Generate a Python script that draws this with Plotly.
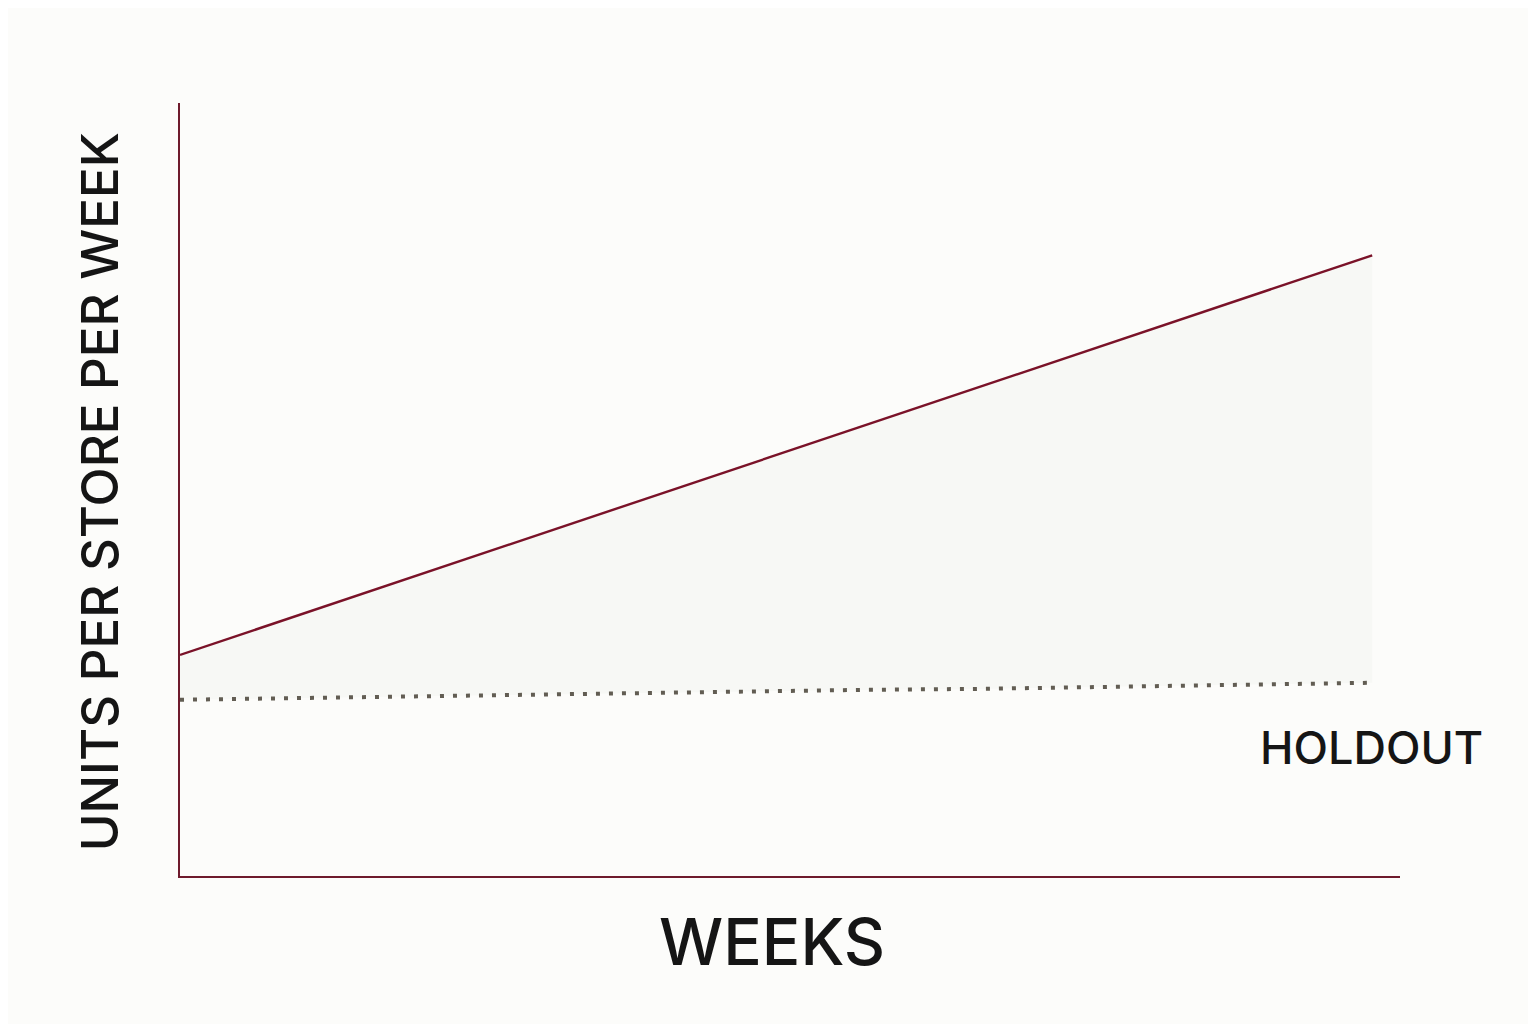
import plotly.graph_objects as go

# weeks since launch, units per store per week
weeks = [0, 1, 2, 3, 4, 5, 6, 7, 8, 9, 10, 11, 12]
treated = [28.6, 32.9, 37.2, 41.5, 45.8, 50.2, 54.5, 58.8, 63.1, 67.4, 71.7, 76.0, 80.3]
holdout = [22.8, 23.0, 23.2, 23.3, 23.5, 23.7, 23.9, 24.1, 24.2, 24.4, 24.6, 24.8, 25.0]

axis_red = '#6e1a2c'
line_red = '#7a1228'
dot_grey = '#625d53'
bg = '#fcfcfa'

fig = go.Figure()

# holdout baseline, dotted
fig.add_trace(go.Scatter(
    x=weeks, y=holdout, mode='lines',
    line=dict(color=dot_grey, width=4, dash='4px,9px'),
    name='Holdout', hoverinfo='skip'
))

# treated stores, shaded lift down to the holdout
fig.add_trace(go.Scatter(
    x=weeks, y=treated, mode='lines',
    line=dict(color=line_red, width=2.4),
    fill='tonexty', fillcolor='#f7f8f5',
    name='Treated', hoverinfo='skip'
))

font = "Inter, Lato, sans-serif"

# page body adds 8px, so margins are pulled in by 8
fig.update_layout(
    width=1528, height=1016,
    margin=dict(l=172, r=136, t=95, b=148),
    paper_bgcolor=bg, plot_bgcolor=bg,
    showlegend=False,
    annotations=[
        dict(text='WEEKS', xref='paper', yref='paper', x=0.485, y=-0.085,
             xanchor='center', yanchor='middle', showarrow=False,
             font=dict(family=font, size=64, color='#151515', weight=500)),
        dict(text='UNITS PER STORE PER WEEK', xref='paper', yref='paper',
             x=-0.066, y=0.497, textangle=-90,
             xanchor='center', yanchor='middle', showarrow=False,
             font=dict(family=font, size=51, color='#151515', weight=500)),
        dict(text='HOLDOUT', xref='paper', yref='paper', x=1.07, y=0.166,
             xanchor='right', yanchor='middle', showarrow=False,
             font=dict(family=font, size=45, color='#151515', weight=500)),
    ]
)

fig.update_xaxes(range=[0, 12.28], showgrid=False, zeroline=False,
                 showticklabels=False, ticks='',
                 showline=True, linecolor=axis_red, linewidth=1.6)
fig.update_yaxes(range=[0, 100], showgrid=False, zeroline=False,
                 showticklabels=False, ticks='',
                 showline=True, linecolor=axis_red, linewidth=1.6)

fig.write_html('out.html')
